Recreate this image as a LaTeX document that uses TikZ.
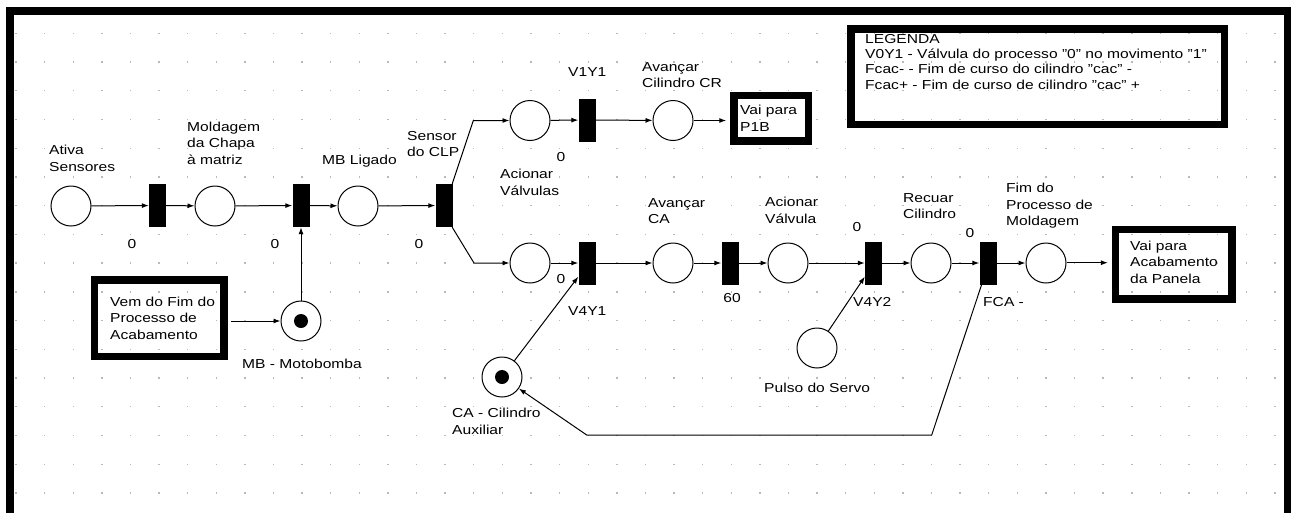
\documentclass[tikz,border=0pt]{standalone}
\usepackage{fontspec}
\setmainfont{Liberation Sans}[FakeStretch=1.2]
\usetikzlibrary{arrows.meta,calc}
\begin{document}
\begin{tikzpicture}[x=1pt,y=-1pt,
  place/.style={circle,draw,line width=1pt,minimum size=40pt,inner sep=0pt,fill=white},
  trans/.style={rectangle,fill=black,minimum width=17pt,minimum height=43pt,inner sep=0pt},
  tok/.style={circle,fill=black,minimum size=14pt,inner sep=0pt},
  thickbox/.style={rectangle,draw,line width=7.5pt,inner sep=0pt},
  lbl/.style={inner sep=0pt,anchor=north west,align=left,font=\fontsize{13}{16.5}\selectfont},
  num/.style={inner sep=0pt,font=\fontsize{13}{16.5}\selectfont},
  flow/.style={line width=1pt,-{Latex[length=7pt,width=5pt]}},
  plain/.style={line width=1pt}]
\useasboundingbox (0,0) rectangle (1291,512);
\clip (0,0) rectangle (1291,512);
% grid dots
\foreach \i in {0,...,44}{\foreach \j in {0,...,16}{
  \fill[gray!55] ({16+28.61*\i-0.7},{33.3+28.73*\j-0.7}) rectangle +(1.4,1.4);}}
% frame
\draw[line width=8pt] (9.7,540) -- (9.7,10.75) -- (1287.5,10.75) -- (1287.5,540);

% places
\node[place] (pA) at (71,206) {};
\node[place] (pM) at (215,206) {};
\node[place] (pMB) at (358,206) {};
\node[place] (pAV) at (530,120.5) {};
\node[place] (pCR) at (673,120.5) {};
\node[place] (pAV2) at (530,263) {};
\node[place] (pCA) at (673,263) {};
\node[place] (pAcV) at (788,263) {};
\node[place] (pRec) at (931,263) {};
\node[place] (pFim) at (1046,263) {};
\node[place] (pMoto) at (301,321) {};
\node[tok] (kMoto) at (pMoto) {};
\node[place] (pCil) at (502,377) {};
\node[tok] (kCil) at (pCil) {};
\node[place] (pServo) at (817,348) {};

% transitions
\node[trans] (t1) at (157.5,205.5) {};
\node[trans] (t2) at (301,205.5) {};
\node[trans] (t3) at (444,205.5) {};
\node[trans] (tV1) at (587,120) {};
\node[trans] (tV4Y1) at (587,263) {};
\node[trans] (t60) at (730,263) {};
\node[trans] (tV4Y2) at (873.5,263) {};
\node[trans] (tFCA) at (988,263) {};

% boxes
\node[thickbox,minimum width=74.5pt,minimum height=45.8pt] (bP1B) at (771,118.3) {};
\node[thickbox,minimum width=116.8pt,minimum height=69.2pt] (bAcab) at (1173.8,264.3) {};
\node[thickbox,minimum width=129.5pt,minimum height=76.5pt] (bVem) at (159.2,318) {};
\node[thickbox,minimum width=373.5pt,minimum height=95.5pt] (bLeg) at (1037.5,76.5) {};

% connectors main row
\draw[flow] (pA) -- (t1);
\draw[flow] (t1) -- (pM);
\draw[flow] (pM) -- (t2);
\draw[flow] (t2) -- (pMB);
\draw[flow] (pMB) -- (t3);
% upper branch
\coordinate (kU) at (473.3,120.5);
\draw[flow] ([xshift=-0.5pt]t3.north east) -- (kU) -- (pAV);
\draw[flow] (pAV) -- (tV1);
\draw[flow] (tV1) -- (pCR);
\coordinate (kP1B) at ($(bP1B.west)+(-3.75,0)$);
\draw[flow] (pCR) -- (kP1B |- pCR);
% lower branch
\coordinate (kD) at (474,263);
\draw[flow] ([xshift=-0.5pt]t3.south east) -- (kD) -- (pAV2);
\draw[flow] (pAV2) -- (tV4Y1);
\draw[flow] (tV4Y1) -- (pCA);
\draw[flow] (pCA) -- (t60);
\draw[flow] (t60) -- (pAcV);
\draw[flow] (pAcV) -- (tV4Y2);
\draw[flow] (tV4Y2) -- (pRec);
\draw[flow] (pRec) -- (tFCA);
\draw[flow] (tFCA) -- (pFim);
\coordinate (kAc) at ($(bAcab.west)+(-3.75,-1.6)$);
\draw[flow] (pFim.east |- kAc) -- (kAc);
% side inputs
\coordinate (kVem) at ($(bVem.east)+(3.75,0)$);
\draw[flow] (kVem |- pMoto) -- (pMoto);
\draw[flow] (pMoto) -- (t2);
\coordinate (kV4Y1) at ($(tV4Y1.west)+(0,13.7)$);
\draw[flow] (pCil) -- (kV4Y1);
\coordinate (kV4Y2) at ($(tV4Y2.west)+(0,13.7)$);
\draw[flow] (pServo) -- (kV4Y2);
% feedback
\coordinate (kF1) at (931.7,435);
\coordinate (kF2) at (586.7,435);
\draw[flow] ([xshift=2.3pt]tFCA.south west) -- (kF1) -- (kF2) -- (pCil);

% labels
\node[lbl] (lAtiva) at (49,145) {Ativa\\Sensores};
\node[lbl] (lMold) at (187,121.5) {Moldagem\\da Chapa\\à matriz};
\node[lbl] (lMBL) at (322,155) {MB Ligado};
\node[lbl] (lSens) at (407,131) {Sensor\\do CLP};
\node[lbl] (lV1Y1) at (568,67) {V1Y1};
\node[lbl] (lCR) at (642,62) {Avançar\\Cilindro CR};
\node[lbl] (lAcV) at (500,169) {Acionar\\Válvulas};
\node[lbl] (lACA) at (648,198) {Avançar\\CA};
\node[lbl] (lAcV1) at (765,197) {Acionar\\Válvula};
\node[lbl] (lRec) at (903,193) {Recuar\\Cilindro};
\node[lbl] (lFim) at (1006,183) {Fim do\\Processo de\\Moldagem};
\node[lbl] (lV4Y1) at (568,306) {V4Y1};
\node[lbl] (lV4Y2) at (853,297) {V4Y2};
\node[lbl] (lFCA) at (983,297) {FCA -};
\node[lbl] (lServo) at (764,383) {Pulso do Servo};
\node[lbl] (lCil) at (452,408) {CA - Cilindro\\Auxiliar};
\node[lbl] (lMoto) at (242,359) {MB - Motobomba};
\node[num] (n1) at (132,244) {0};
\node[num] (n2) at (275,244) {0};
\node[num] (n3) at (419,244) {0};
\node[num] (n4) at (561,157.5) {0};
\node[num] (n5) at (561,279) {0};
\node[num] (n6) at (732,298) {60};
\node[num] (n7) at (857,227) {0};
\node[num] (n8) at (970,233) {0};
% box texts
\node[lbl] (tP1B) at (740,105) {Vai para\\P1B};
\node[lbl] (tAcab) at (1130,240.7) {Vai para\\Acabamento\\da Panela};
\node[lbl] (tVem) at (110,296.7) {Vem do Fim do\\Processo de\\Acabamento};
\node[lbl,font=\fontsize{13}{15.2}\selectfont] (tLeg) at (865,34.3) {LEGENDA\\V0Y1 - Válvula do processo "0" no movimento "1"\\Fcac- - Fim de curso do cilindro "cac" -\\Fcac+ - Fim de curso de cilindro "cac" +};
\end{tikzpicture}
\end{document}
